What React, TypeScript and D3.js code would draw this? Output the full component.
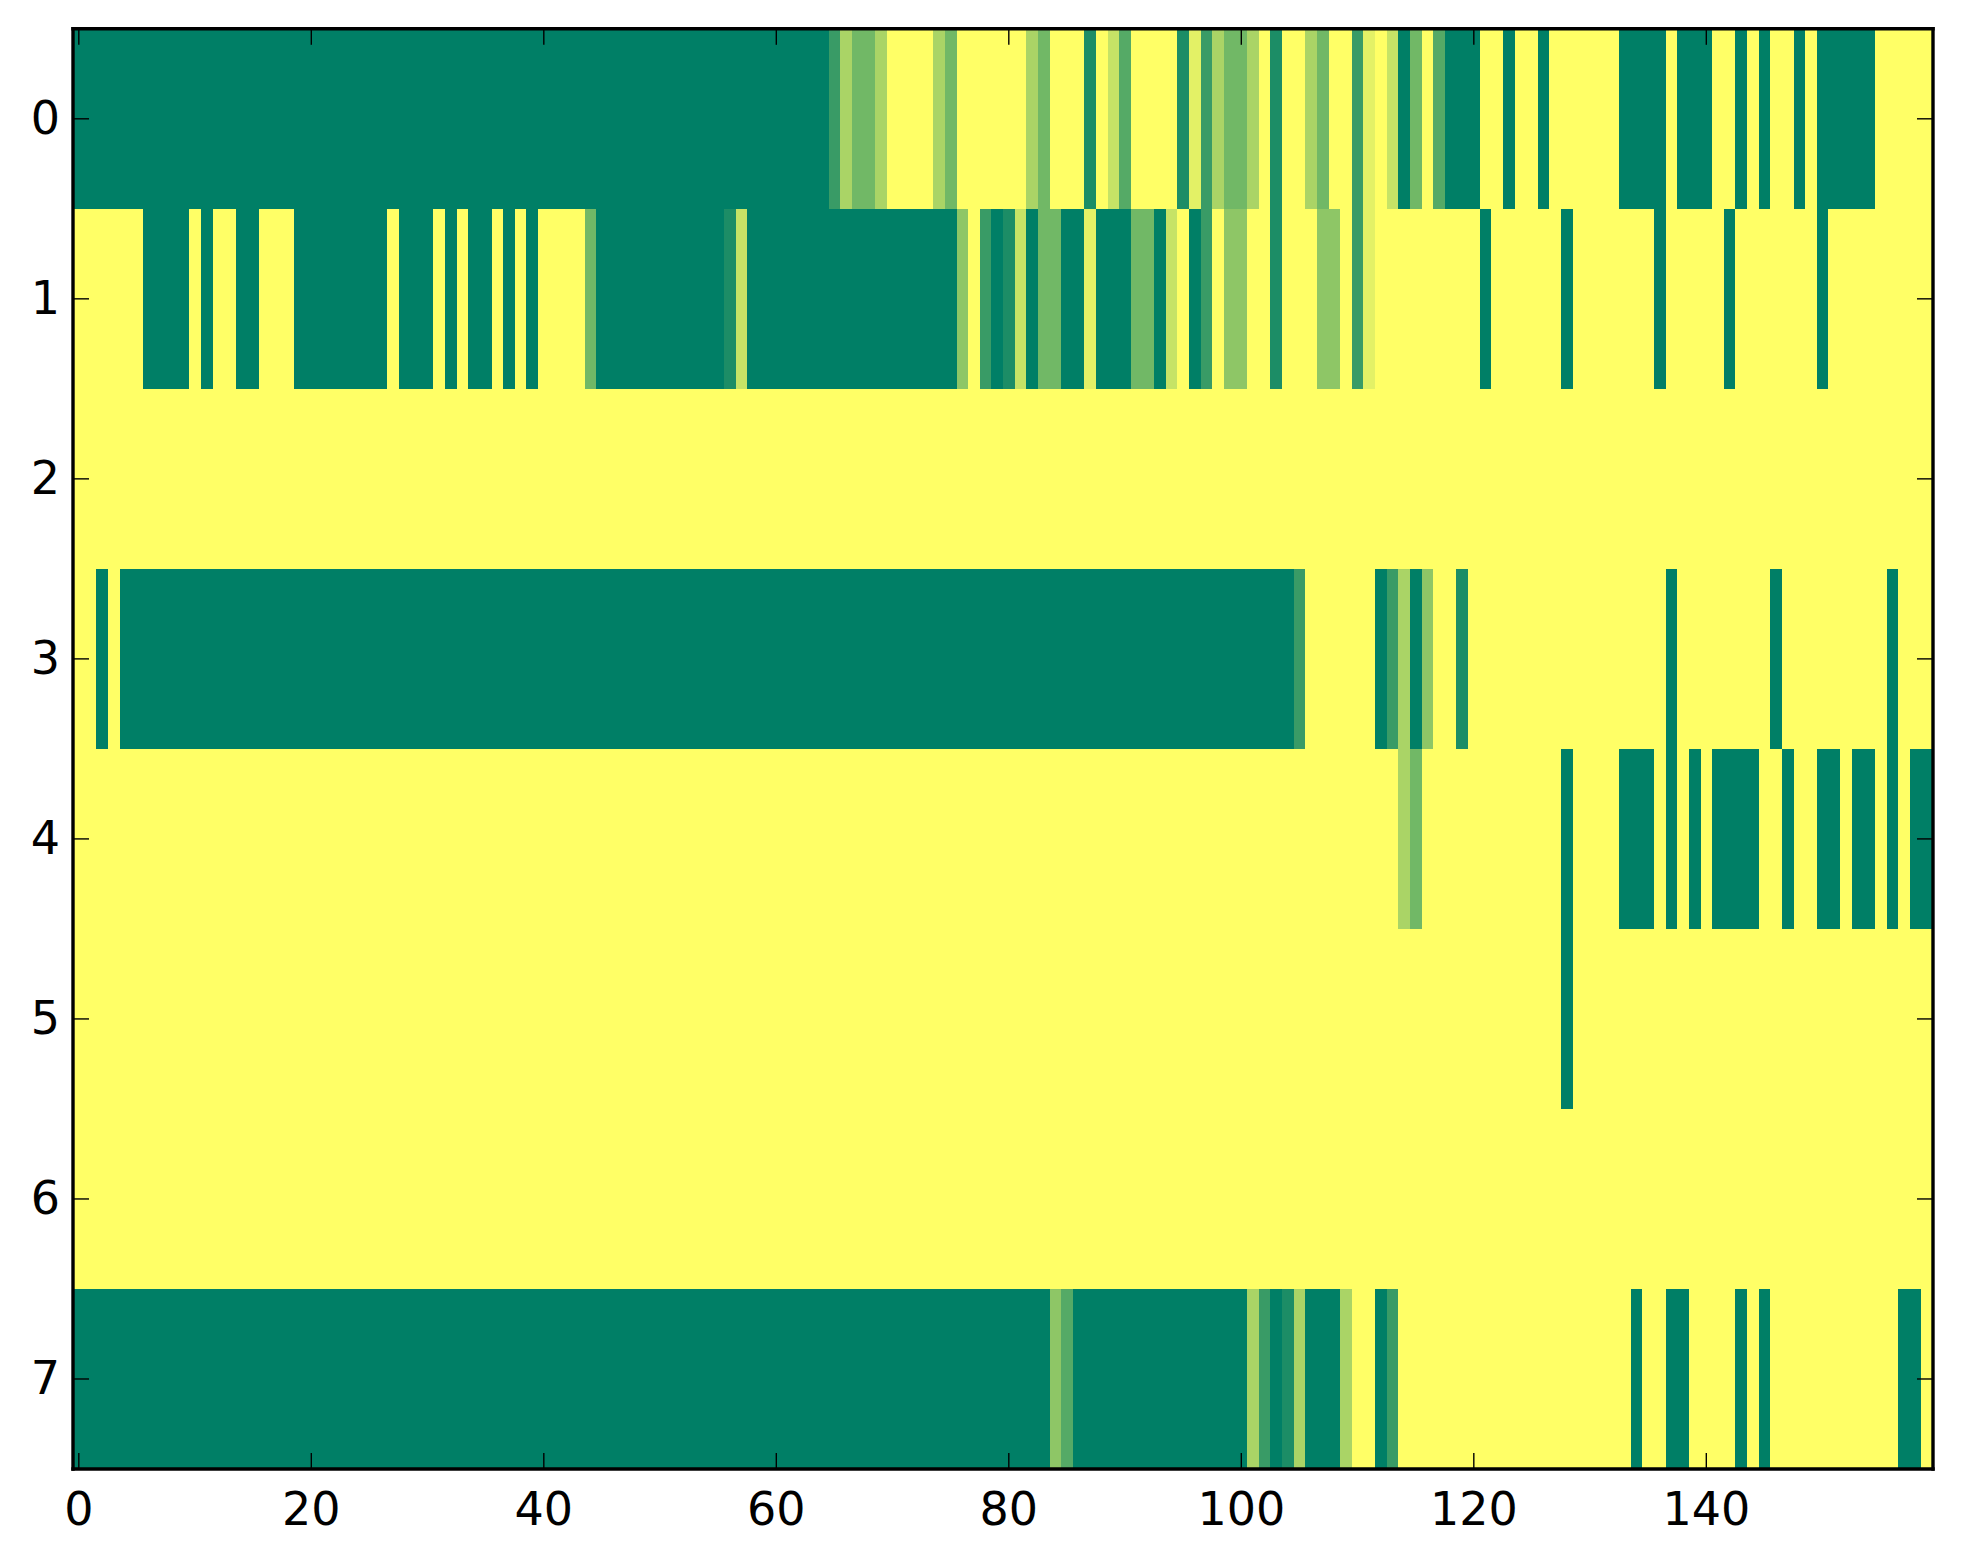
import { useEffect, useRef } from "react";
import * as d3 from "d3";

// one list per image row, 160 columns each, 0 = dark green end, 9 = yellow end
const row0 = [
  0,0,0,0,0,0,0,0,0,0,0,0,0,0,0,0,0,0,0,0,
  0,0,0,0,0,0,0,0,0,0,0,0,0,0,0,0,0,0,0,0,
  0,0,0,0,0,0,0,0,0,0,0,0,0,0,0,0,0,0,0,0,
  0,0,0,0,0,2,6,4,4,6,9,9,9,9,6,4,9,9,9,9,
  9,9,6,4,9,9,9,1,9,7,3,9,9,9,9,1,8,2,6,4,
  4,6,9,1,9,9,6,4,9,9,2,8,9,7,0,4,9,3,0,0,
  0,9,9,0,9,9,0,9,9,9,9,9,9,0,0,0,0,9,0,0,
  0,9,9,0,9,0,9,9,0,9,0,0,0,0,0,9,9,9,9,9,
];
const row1 = [
  9,9,9,9,9,9,0,0,0,0,9,0,9,9,0,0,9,9,9,0,
  0,0,0,0,0,0,0,9,0,0,0,9,0,9,0,0,9,0,9,0,
  9,9,9,9,4,0,0,0,0,0,0,0,0,0,0,0,1,7,0,0,
  0,0,0,0,0,0,0,0,0,0,0,0,0,0,0,0,5,9,2,0,
  1,7,0,4,4,0,0,8,0,0,0,4,4,0,7,9,0,2,9,5,
  5,9,9,1,9,9,9,5,5,9,2,8,9,9,9,9,9,9,9,9,
  9,0,9,9,9,9,9,9,0,9,9,9,9,9,9,9,0,9,9,9,
  9,9,0,9,9,9,9,9,9,9,0,9,9,9,9,9,9,9,9,9,
];
const row2 = [
  9,9,9,9,9,9,9,9,9,9,9,9,9,9,9,9,9,9,9,9,
  9,9,9,9,9,9,9,9,9,9,9,9,9,9,9,9,9,9,9,9,
  9,9,9,9,9,9,9,9,9,9,9,9,9,9,9,9,9,9,9,9,
  9,9,9,9,9,9,9,9,9,9,9,9,9,9,9,9,9,9,9,9,
  9,9,9,9,9,9,9,9,9,9,9,9,9,9,9,9,9,9,9,9,
  9,9,9,9,9,9,9,9,9,9,9,9,9,9,9,9,9,9,9,9,
  9,9,9,9,9,9,9,9,9,9,9,9,9,9,9,9,9,9,9,9,
  9,9,9,9,9,9,9,9,9,9,9,9,9,9,9,9,9,9,9,9,
];
const row3 = [
  9,9,0,9,0,0,0,0,0,0,0,0,0,0,0,0,0,0,0,0,
  0,0,0,0,0,0,0,0,0,0,0,0,0,0,0,0,0,0,0,0,
  0,0,0,0,0,0,0,0,0,0,0,0,0,0,0,0,0,0,0,0,
  0,0,0,0,0,0,0,0,0,0,0,0,0,0,0,0,0,0,0,0,
  0,0,0,0,0,0,0,0,0,0,0,0,0,0,0,0,0,0,0,0,
  0,0,0,0,0,2,9,9,9,9,9,9,0,2,6,0,5,9,9,1,
  9,9,9,9,9,9,9,9,9,9,9,9,9,9,9,9,9,0,9,9,
  9,9,9,9,9,9,0,9,9,9,9,9,9,9,9,9,0,9,9,9,
];
const row4 = [
  9,9,9,9,9,9,9,9,9,9,9,9,9,9,9,9,9,9,9,9,
  9,9,9,9,9,9,9,9,9,9,9,9,9,9,9,9,9,9,9,9,
  9,9,9,9,9,9,9,9,9,9,9,9,9,9,9,9,9,9,9,9,
  9,9,9,9,9,9,9,9,9,9,9,9,9,9,9,9,9,9,9,9,
  9,9,9,9,9,9,9,9,9,9,9,9,9,9,9,9,9,9,9,9,
  9,9,9,9,9,9,9,9,9,9,9,9,9,9,6,4,9,9,9,9,
  9,9,9,9,9,9,9,9,0,9,9,9,9,0,0,0,9,0,9,0,
  9,0,0,0,0,9,9,0,9,9,0,0,9,0,0,9,0,9,0,0,
];
const row5 = [
  9,9,9,9,9,9,9,9,9,9,9,9,9,9,9,9,9,9,9,9,
  9,9,9,9,9,9,9,9,9,9,9,9,9,9,9,9,9,9,9,9,
  9,9,9,9,9,9,9,9,9,9,9,9,9,9,9,9,9,9,9,9,
  9,9,9,9,9,9,9,9,9,9,9,9,9,9,9,9,9,9,9,9,
  9,9,9,9,9,9,9,9,9,9,9,9,9,9,9,9,9,9,9,9,
  9,9,9,9,9,9,9,9,9,9,9,9,9,9,9,9,9,9,9,9,
  9,9,9,9,9,9,9,9,0,9,9,9,9,9,9,9,9,9,9,9,
  9,9,9,9,9,9,9,9,9,9,9,9,9,9,9,9,9,9,9,9,
];
const row6 = [
  9,9,9,9,9,9,9,9,9,9,9,9,9,9,9,9,9,9,9,9,
  9,9,9,9,9,9,9,9,9,9,9,9,9,9,9,9,9,9,9,9,
  9,9,9,9,9,9,9,9,9,9,9,9,9,9,9,9,9,9,9,9,
  9,9,9,9,9,9,9,9,9,9,9,9,9,9,9,9,9,9,9,9,
  9,9,9,9,9,9,9,9,9,9,9,9,9,9,9,9,9,9,9,9,
  9,9,9,9,9,9,9,9,9,9,9,9,9,9,9,9,9,9,9,9,
  9,9,9,9,9,9,9,9,9,9,9,9,9,9,9,9,9,9,9,9,
  9,9,9,9,9,9,9,9,9,9,9,9,9,9,9,9,9,9,9,9,
];
const row7 = [
  0,0,0,0,0,0,0,0,0,0,0,0,0,0,0,0,0,0,0,0,
  0,0,0,0,0,0,0,0,0,0,0,0,0,0,0,0,0,0,0,0,
  0,0,0,0,0,0,0,0,0,0,0,0,0,0,0,0,0,0,0,0,
  0,0,0,0,0,0,0,0,0,0,0,0,0,0,0,0,0,0,0,0,
  0,0,0,0,5,3,0,0,0,0,0,0,0,0,0,0,0,0,0,0,
  0,6,2,0,1,6,0,0,0,6,9,9,0,2,9,9,9,9,9,9,
  9,9,9,9,9,9,9,9,9,9,9,9,9,9,0,9,9,0,0,9,
  9,9,9,0,9,0,9,9,9,9,9,9,9,9,9,9,9,0,0,9,
];
const rows = [row0, row1, row2, row3, row4, row5, row6, row7];

const xTicks = [0, 20, 40, 60, 80, 100, 120, 140];
const yTicks = [0, 1, 2, 3, 4, 5, 6, 7];

const dims = { width: 1963, height: 1564, left: 73, right: 1933, top: 28.8, bottom: 1469 };
const fontSize = 46;

export default function App() {
  const ref = useRef<SVGSVGElement | null>(null);

  useEffect(() => {
    const svg = d3.select(ref.current);
    svg.selectAll("*").remove();

    const xScale = d3.scaleLinear().domain([-0.5, 159.5]).range([dims.left, dims.right]);
    const yScale = d3.scaleLinear().domain([-0.5, 7.5]).range([dims.top, dims.bottom]);
    // matplotlib "summer"
    const color = d3.scaleLinear<string>().domain([0, 9]).range(["#007f66", "#ffff66"]);

    const cells = rows.flatMap((r, row) => r.map((value, col) => ({ row, col, value })));
    svg.append("g")
      .attr("shape-rendering", "crispEdges")
      .selectAll("rect")
      .data(cells)
      .join("rect")
      .attr("x", d => xScale(d.col - 0.5))
      .attr("y", d => yScale(d.row - 0.5))
      .attr("width", d => xScale(d.col + 0.5) - xScale(d.col - 0.5))
      .attr("height", d => yScale(d.row + 0.5) - yScale(d.row - 0.5))
      .attr("fill", d => color(d.value));

    const tick = -16;
    const axes = [
      { at: `translate(0,${dims.bottom})`, axis: d3.axisBottom(xScale).tickValues(xTicks).tickPadding(23) },
      { at: `translate(0,${dims.top})`, axis: d3.axisTop(xScale).tickValues(xTicks).tickFormat(() => "") },
      { at: `translate(${dims.left},0)`, axis: d3.axisLeft(yScale).tickValues(yTicks).tickPadding(13) },
      { at: `translate(${dims.right},0)`, axis: d3.axisRight(yScale).tickValues(yTicks).tickFormat(() => "") },
    ];
    axes.forEach(({ at, axis }) => {
      const g = svg.append("g")
        .attr("transform", at)
        .call(axis.tickSizeInner(tick).tickSizeOuter(0).offset(0));
      g.select(".domain")
        .attr("stroke", "#000")
        .attr("stroke-width", 3.4)
        .attr("stroke-linecap", "square");
      g.selectAll(".tick line").attr("stroke", "#000").attr("stroke-width", 1.4);
      g.selectAll(".tick text")
        .attr("fill", "#000")
        .attr("font-family", "'DejaVu Sans'")
        .attr("font-size", fontSize);
    });
  }, []);

  return (
    <svg
      ref={ref}
      width={dims.width}
      height={dims.height}
      style={{ position: "absolute", left: 0, top: 0, background: "#fff" }}
    />
  );
}
